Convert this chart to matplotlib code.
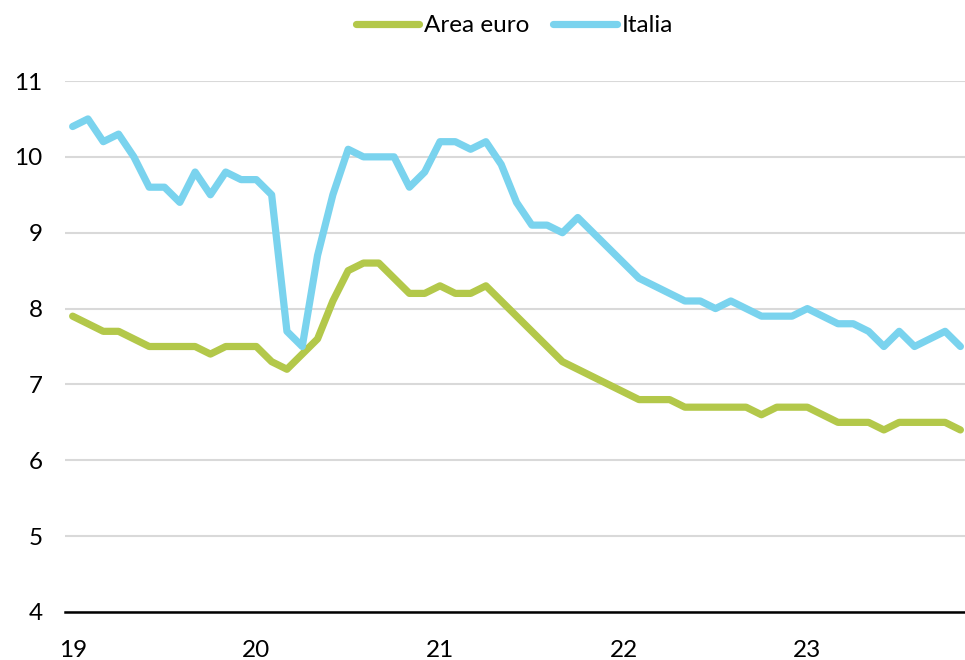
import matplotlib
matplotlib.use("Agg")
import matplotlib.pyplot as plt

plt.rcParams['font.family'] = ['Lato', 'DejaVu Sans']

# monthly values, Jan 2019 - Nov 2023
area_euro = [7.9, 7.8, 7.7, 7.7, 7.6, 7.5, 7.5, 7.5, 7.5, 7.4, 7.5, 7.5,
             7.5, 7.3, 7.2, 7.4, 7.6, 8.1, 8.5, 8.6, 8.6, 8.4, 8.2, 8.2,
             8.3, 8.2, 8.2, 8.3, 8.1, 7.9, 7.7, 7.5, 7.3, 7.2, 7.1, 7.0,
             6.9, 6.8, 6.8, 6.8, 6.7, 6.7, 6.7, 6.7, 6.7, 6.6, 6.7, 6.7,
             6.7, 6.6, 6.5, 6.5, 6.5, 6.4, 6.5, 6.5, 6.5, 6.5, 6.4]
italia = [10.4, 10.5, 10.2, 10.3, 10.0, 9.6, 9.6, 9.4, 9.8, 9.5, 9.8, 9.7,
          9.7, 9.5, 7.7, 7.5, 8.7, 9.5, 10.1, 10.0, 10.0, 10.0, 9.6, 9.8,
          10.2, 10.2, 10.1, 10.2, 9.9, 9.4, 9.1, 9.1, 9.0, 9.2, 9.0, 8.8,
          8.6, 8.4, 8.3, 8.2, 8.1, 8.1, 8.0, 8.1, 8.0, 7.9, 7.9, 7.9,
          8.0, 7.9, 7.8, 7.8, 7.7, 7.5, 7.7, 7.5, 7.6, 7.7, 7.5]
year_ticks = [0, 12, 24, 36, 48]
year_labels = ["19", "20", "21", "22", "23"]

green = "#b3c84a"
blue = "#7ad3ee"

fig = plt.figure(figsize=(9.65, 6.6), dpi=100)
ax = fig.add_axes([65 / 965, 48 / 660, 900 / 965, 531 / 660])

months = list(range(len(italia)))
ax.plot(months, area_euro, color=green, lw=5.2, label="Area euro",
        solid_joinstyle="round", solid_capstyle="round", zorder=3)
ax.plot(months, italia, color=blue, lw=5.2, label="Italia",
        solid_joinstyle="round", solid_capstyle="round", zorder=3)

ax.set_xlim(-0.5, 58.3)
ax.set_ylim(4, 11)
ax.set_yticks(range(4, 12))
ax.set_xticks(year_ticks)
ax.set_xticklabels(year_labels)

ax.grid(axis="y", color="#d9d9d9", lw=1.5)
ax.set_axisbelow(True)
for side in ["top", "right", "left"]:
    ax.spines[side].set_visible(False)
ax.spines["bottom"].set_linewidth(1.8)
ax.spines["bottom"].set_color("black")
ax.spines["bottom"].set_zorder(4)
ax.tick_params(axis="both", length=0, labelsize=17.5, colors="black")
ax.tick_params(axis="y", pad=16)
ax.tick_params(axis="x", pad=20)

fig.legend(loc="upper center", bbox_to_anchor=(0.533, 1.01), ncol=2,
           frameon=False, fontsize=17.5, handlelength=2.6, columnspacing=1.0,
           handletextpad=0.2)

fig.savefig("out.png", dpi=100)
